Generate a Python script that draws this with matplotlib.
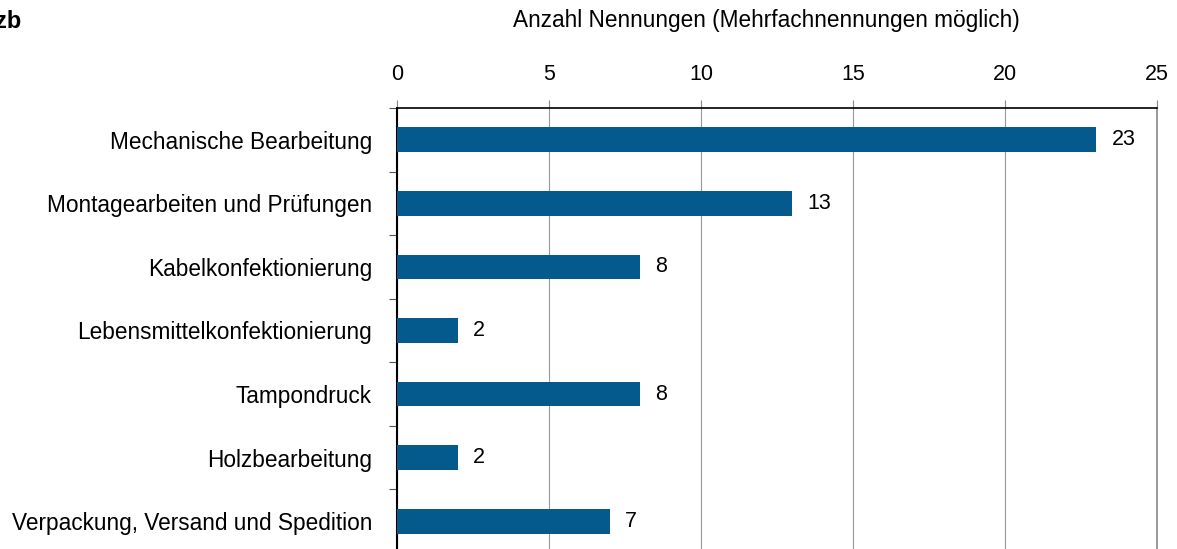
import matplotlib.pyplot as plt
import numpy as np

plt.rcParams['font.family'] = ['Liberation Sans', 'DejaVu Sans']

categories = ['Mechanische Bearbeitung', 'Montagearbeiten und Prüfungen',
              'Kabelkonfektionierung', 'Lebensmittelkonfektionierung',
              'Tampondruck', 'Holzbearbeitung', 'Verpackung, Versand und Spedition']
values = [23, 13, 8, 2, 8, 2, 7]
xticks = [0, 5, 10, 15, 20, 25]
bar_color = '#045a8d'

fig = plt.figure(figsize=(11.77, 5.49), dpi=100)
ax = fig.add_axes([397 / 1177, 1 - 553 / 549, 760 / 1177, 445 / 549])

y = np.arange(len(categories))
ax.barh(y, values, height=0.39, color=bar_color, zorder=3)
for yi, v in zip(y, values):
    ax.text(v + 0.5, yi, str(v), va='center', ha='left', fontsize=15.5, color='black')

ax.set_xlim(0, 25)
ax.set_ylim(len(categories) - 0.5, -0.5)
ax.xaxis.tick_top()
ax.set_xticks(xticks)
ax.set_xticklabels([str(t) for t in xticks], fontsize=15.5)
ax.tick_params(axis='x', length=6, width=0.8, color='#888888', pad=10.5)
ax.grid(axis='x', color='#999999', linewidth=0.8, zorder=0)

# category boundaries as ticks on the left
ax.set_yticks(np.arange(len(categories) + 1) - 0.5, minor=False)
ax.set_yticklabels([])
ax.set_yticks(y, minor=True)
ax.set_yticklabels(categories, minor=True, fontsize=16.3)
ax.tick_params(axis='y', which='major', length=6, width=0.8, color='#555555')
ax.tick_params(axis='y', which='minor', length=0, pad=18)

ax.spines['bottom'].set_visible(False)
ax.spines['right'].set_color('#888888')
ax.spines['right'].set_linewidth(1.2)
ax.spines['top'].set_linewidth(1.2)
ax.spines['left'].set_linewidth(1.5)

fig.text(766 / 1177, 1 - 21 / 549, 'Anzahl Nennungen (Mehrfachnennungen möglich)',
         ha='center', va='center', fontsize=16.3)
fig.text(21 / 1177, 1 - 21 / 549, 'zb', ha='right', va='center',
         fontsize=17, fontweight='bold')

fig.savefig('out.png', dpi=100)
